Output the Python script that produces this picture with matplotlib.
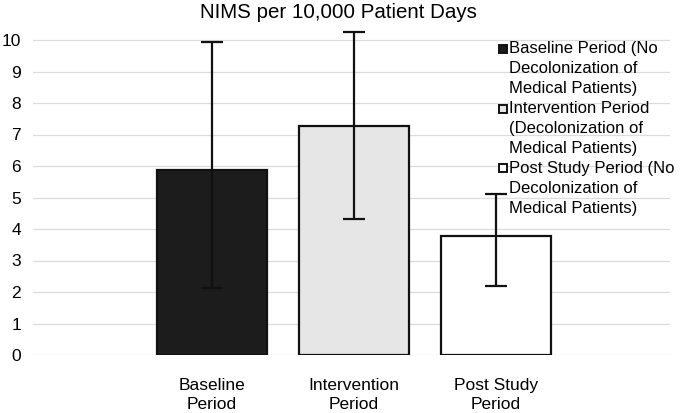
import matplotlib
matplotlib.use("Agg")
import matplotlib.pyplot as plt
from matplotlib.patches import Rectangle

plt.rcParams['font.family'] = ['Liberation Sans', 'DejaVu Sans']

categories = ["Baseline\nPeriod", "Intervention\nPeriod", "Post Study\nPeriod"]
values = [5.87, 7.26, 3.77]
err_low = [2.13, 4.32, 2.20]
err_high = [9.95, 10.26, 5.10]
legend_labels = [
    ["Baseline Period (No", "Decolonization of", "Medical Patients)"],
    ["Intervention Period", "(Decolonization of", "Medical Patients)"],
    ["Post Study Period (No", "Decolonization of", "Medical Patients)"],
]
title = "NIMS per 10,000 Patient Days"
yticks = list(range(0, 11))

fills = ["#1c1c1c", "#e6e6e6", "#ffffff"]

W, H = 680, 413
fig = plt.figure(figsize=(W / 100, H / 100), dpi=100)
x0, x1 = 33, 670
y0 = 355
ppu = 31.5
ymax = 10.5
ytop = y0 - ymax * ppu
ax = fig.add_axes([x0 / W, (H - y0) / H, (x1 - x0) / W, (y0 - ytop) / H])

xs = list(range(len(values)))
for i, (v, f) in enumerate(zip(values, fills)):
    ax.bar(xs[i], v, width=0.78, color=f, edgecolor="#111111",
           linewidth=1.6, zorder=3)
lo = [v - l for v, l in zip(values, err_low)]
hi = [h - v for v, h in zip(values, err_high)]
ax.errorbar(xs, values, yerr=[lo, hi], fmt="none", ecolor="#111111",
            elinewidth=1.6, capsize=8, capthick=1.6, zorder=4)

ax.set_xlim((x0 - 212) / 142, (x1 - 212) / 142)
ax.set_ylim(0, ymax)
ax.set_yticks(yticks)
ax.set_yticklabels([str(t) for t in yticks], fontsize=12.5)
ax.set_xticks([])
ax.tick_params(axis="y", length=0, pad=8.5)
ax.yaxis.grid(True, color="#dcdcdc", linewidth=0.9, zorder=0)
ax.set_axisbelow(True)
for s in ax.spines.values():
    s.set_visible(False)

for i, c in enumerate(categories):
    ax.text(xs[i], -0.72, c, ha="center", va="top", fontsize=12.5,
            linespacing=1.35)

fig.text(338 / W, 1 - 12 / H, title, ha="center", va="center", fontsize=14.8)

line_h = 19.9
ly = 49
for i, lines in enumerate(legend_labels):
    for j, t in enumerate(lines):
        yy = ly + (i * 3 + j) * line_h
        fig.text(509 / W, 1 - yy / H, t, ha="left", va="center", fontsize=12)
    yy = ly + i * 3 * line_h
    fig.patches.append(Rectangle((499 / W, 1 - (yy + 4) / H), 8 / W, 8 / H,
                                 transform=fig.transFigure, facecolor=fills[i],
                                 edgecolor="#111111", linewidth=1.4))

fig.savefig("out.png", dpi=100)
